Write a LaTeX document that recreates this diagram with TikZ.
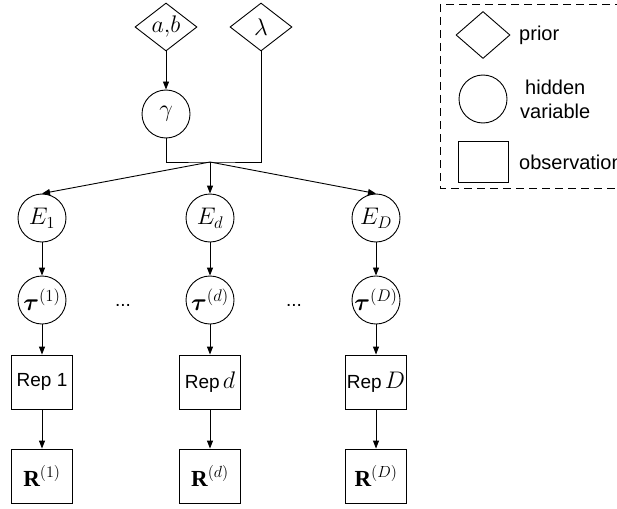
\RequirePackage{fix-cm}
\documentclass[tikz,border=0pt]{standalone}
\usepackage{amsmath}
\usepackage{fontspec}
\setmainfont{Liberation Serif}
\setsansfont{Liberation Sans}
\usetikzlibrary{shapes.geometric,arrows.meta,positioning}

\tikzset{
  hidden/.style={circle,draw,minimum size=48pt,inner sep=0pt},
  obs/.style={rectangle,draw,minimum width=61pt,minimum height=54pt,inner sep=0pt,font=\fontsize{19}{22}\selectfont\sffamily},
  prior/.style={diamond,draw,aspect=1.3,minimum width=62pt,minimum height=48pt,inner sep=0pt},
  edge/.style={-{Triangle[length=8pt,width=6pt]}},
  legtext/.style={font=\fontsize{20}{24}\selectfont\sffamily,align=center}
}

\begin{document}
\begin{tikzpicture}[x=1pt,y=-1pt,line width=0.9pt,every node/.style={font=\fontsize{24}{26}\selectfont}]
          \useasboundingbox (0,0) rectangle (617,508);
          % priors and shared part
          \node[prior] (ab) at (166,27){$a{,}b$};
          \node[prior] (lambda) at (261,27){$\lambda$};
          \node[hidden] (gamma) at (166,114){$\gamma$};
          \coordinate (join) at (210,162);
          % one column per replicate
          \node[hidden] (E_1) at (42,218){$E_1$};
          \node[hidden] (E_d) at (210,218){$E_d$};
          \node[hidden] (E_D) at (376,218){$E_D$};
          \node[hidden] (tau_1) at (42,300){$\boldsymbol{\tau}^{(1)}$};
          \node[hidden] (tau_d) at (210,300){$\boldsymbol{\tau}^{(d)}$};
          \node[hidden] (tau_D) at (376,300){$\boldsymbol{\tau}^{(D)}$};
          \node[obs] (rep_1) at (42,382){Rep 1};
          \node[obs] (rep_d) at (210,382){Rep\,{\fontsize{24}{26}\selectfont$d$}};
          \node[obs] (rep_D) at (376,382){Rep\,{\fontsize{24}{26}\selectfont$D$}};
          \node[obs,font=\fontsize{23}{26}\selectfont] (R_1) at (42,476){$\mathbf{R}^{(1)}$};
          \node[obs,font=\fontsize{23}{26}\selectfont] (R_d) at (210,476){$\mathbf{R}^{(d)}$};
          \node[obs,font=\fontsize{23}{26}\selectfont] (R_D) at (376,476){$\mathbf{R}^{(D)}$};
          \node[font=\fontsize{19}{22}\selectfont\sffamily] (dots_1) at (123,305){...};
          \node[font=\fontsize{19}{22}\selectfont\sffamily] (dots_2) at (294,305){...};
          % edges
          \draw[edge] (ab) -- (gamma);
          \draw (gamma) |- (join) -| (lambda);
          \draw[edge] (join) -- (E_1.north);
          \draw[edge] (join) -- (E_d.north);
          \draw[edge] (join) -- (E_D.north);
          \draw[edge] (E_1) -- (tau_1);
          \draw[edge] (E_d) -- (tau_d);
          \draw[edge] (E_D) -- (tau_D);
          \draw[edge] (tau_1) -- (rep_1);
          \draw[edge] (tau_d) -- (rep_d);
          \draw[edge] (tau_D) -- (rep_D);
          \draw[edge] (rep_1) -- (R_1);
          \draw[edge] (rep_d) -- (R_d);
          \draw[edge] (rep_D) -- (R_D);
          % legend
          \draw[dash pattern=on 8pt off 5pt] (440,4) rectangle (640,188);
          \node[prior,minimum width=54pt,minimum height=47pt] (leg_prior) at (483,35){};
          \node[hidden] (leg_hidden) at (483,99){};
          \node[draw,minimum width=50pt,minimum height=41pt,inner sep=0pt] (leg_obs) at (483,162){};
          \node[legtext,right=5pt of leg_prior] (txt_prior){prior};
          \node[legtext,right=9pt of leg_hidden] (txt_hidden){hidden\\variable};
          \node[legtext,right=7pt of leg_obs] (txt_obs){observation};
        \end{tikzpicture}
\end{document}
